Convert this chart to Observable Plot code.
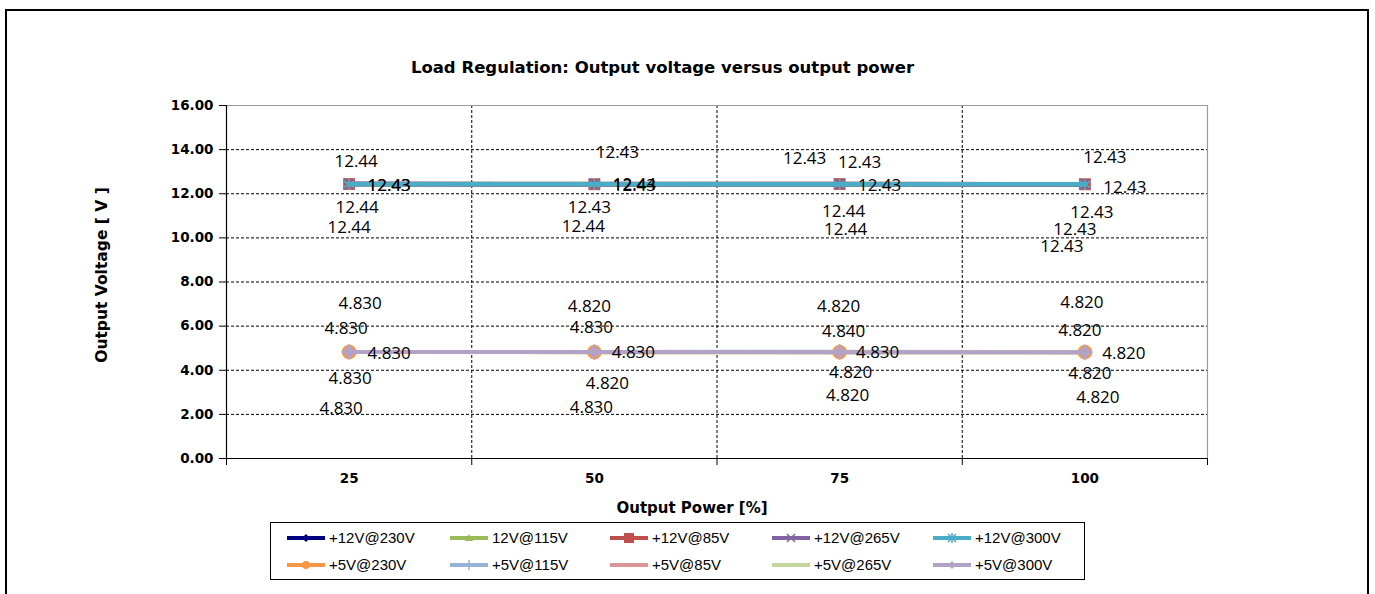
<!DOCTYPE html>
<html>
<head>
<meta charset="utf-8">
<script src="https://cdn.jsdelivr.net/npm/d3@7"></script>
<script src="https://cdn.jsdelivr.net/npm/@observablehq/plot@0.6"></script>
<style>
  html, body { margin: 0; padding: 0; background: #fff; }
  #wrap { position: relative; width: 1375px; height: 594px; overflow: hidden; background: #fff; }
  #frame { position: absolute; left: 5px; top: 9px; width: 1360px; height: 620px; border: 2px solid #000; }
  #chart { position: absolute; left: 0; top: 0; }
  .t { position: absolute; font-family: "DejaVu Sans", sans-serif; font-weight: bold; color: #000; white-space: nowrap; }
  #title { left: 0; width: 1325px; top: 58px; text-align: center; font-size: 16.5px; }
  #ylab { left: 102px; top: 275px; font-size: 15.5px; transform: translate(-50%, -50%) rotate(-90deg); }
  #xlab { left: 692px; top: 508px; font-size: 15px; transform: translate(-50%, -50%); }
  #legend { position: absolute; left: 270px; top: 522px; width: 813px; height: 56px; border: 1.5px solid #000; background: #fff; }
  .li { position: absolute; display: flex; align-items: center; font-family: "Liberation Sans", Arial, sans-serif; font-size: 15px; color: #000; white-space: nowrap; }
  .li svg { margin-right: 2px; }
</style>
</head>
<body>
<div id="wrap">
  <div id="frame"></div>
  <div id="chart"></div>
  <div id="title" class="t"></div>
  <div id="ylab" class="t"></div>
  <div id="xlab" class="t"></div>
  <div id="legend"></div>
</div>
<script>
// ---------- data ----------
const titleText = "Load Regulation: Output voltage versus output power";
const xTitle = "Output Power [%]";
const yTitle = "Output Voltage [ V ]";
const powers = ["25", "50", "75", "100"];
const yTicks = [0, 2, 4, 6, 8, 10, 12, 14, 16];

const names12 = ["+12V@230V", "12V@115V", "+12V@85V", "+12V@265V", "+12V@300V"];
const names5 = ["+5V@230V", "+5V@115V", "+5V@85V", "+5V@265V", "+5V@300V"];

const v12_230 = [12.44, 12.43, 12.43, 12.43];
const v12_115 = [12.43, 12.44, 12.43, 12.43];
const v12_85 = [12.44, 12.43, 12.44, 12.43];
const v12_265 = [12.44, 12.44, 12.44, 12.43];
const v12_300 = [12.43, 12.43, 12.43, 12.43];

const v5_230 = [4.83, 4.82, 4.82, 4.82];
const v5_115 = [4.83, 4.83, 4.84, 4.82];
const v5_85 = [4.83, 4.83, 4.83, 4.82];
const v5_265 = [4.83, 4.82, 4.82, 4.82];
const v5_300 = [4.83, 4.83, 4.82, 4.82];

// ---------- styles ----------
const colors12 = ["#000080", "#9BBB59", "#C0504D", "#8064A2", "#4BACC6"];
const colors5 = ["#F79646", "#95B3D7", "#D99694", "#C3D69B", "#B3A2C7"];
const symbols12 = ["diamond2", "triangle2", "square2", "times", "asterisk"];
const symbols5 = ["circle", "plus", null, null, "diamond2"];
const sizes12 = [4.5, 5, 7, 5, 5.5];
const sizes5 = [7, 5, 0, 0, 6];
// data-label placement (pixel offsets from each point), per series and per point
const lab12dx = [[7, 23, 20, 20], [40, 40, 40, 40], [8, -5, 4, 7], [0, -11, 6, -10], [40, 40, -35, -23]];
const lab12dy = [[-22, -32, -22, -27], [1, 1, 1, 3], [24, 23, 28, 28], [44, 43, 46, 45], [1, 1, -26, 62]];
const lab5dx = [[11, -5, -1, -3], [-3, -3, 4, -5], [40, 39, 38, 39], [1, 13, 11, 5], [-8, -3, 8, 13]];
const lab5dy = [[-48, -46, -46, -50], [-23, -24, -20, -22], [2, 1, 1, 1], [27, 31, 20, 21], [57, 56, 43, 45]];

const vals12 = [v12_230, v12_115, v12_85, v12_265, v12_300];
const vals5 = [v5_230, v5_115, v5_85, v5_265, v5_300];

function rows(vals) { return vals.map((v, i) => ({x: i + 0.5, y: v, i})); }

const marks = [];
// grid
marks.push(Plot.ruleY(yTicks.filter(d => d > 0 && d < 16), {stroke: "#000", strokeDasharray: "3,2", strokeWidth: 1}));
marks.push(Plot.ruleX([1, 2, 3], {stroke: "#000", strokeDasharray: "3,2", strokeWidth: 1}));
marks.push(Plot.ruleY([16], {stroke: "#9a9a9a", strokeWidth: 1.2}));
marks.push(Plot.ruleX([4], {stroke: "#9a9a9a", strokeWidth: 1.2}));
// axes
marks.push(Plot.axisY({ticks: yTicks, tickFormat: d => d.toFixed(2), tickSize: 7, tickPadding: 6, label: null, stroke: "#000"}));
marks.push(Plot.axisX({ticks: [0, 1, 2, 3, 4], tickFormat: () => "", tickSize: 7, label: null, stroke: "#000"}));
marks.push(Plot.axisX({ticks: [0.5, 1.5, 2.5, 3.5], tickFormat: d => powers[Math.floor(d)], tickSize: 0, tickPadding: 15, label: null}));
marks.push(Plot.ruleX([0], {stroke: "#000", strokeWidth: 1.2}));
marks.push(Plot.ruleY([0], {stroke: "#000", strokeWidth: 1.2}));

function addSeries(vals, color, sym, size, width) {
  const r = rows(vals);
  const open = sym === "times" || sym === "asterisk" || sym === "plus";
  marks.push(Plot.line(r, {x: "x", y: "y", stroke: color, strokeWidth: width}));
  if (sym) marks.push(Plot.dot(r, {x: "x", y: "y", symbol: () => sym, fill: open ? "none" : color, stroke: color, strokeWidth: open ? 1.8 : 0.8, r: size}));
}
vals12.forEach((v, s) => addSeries(v, colors12[s], symbols12[s], sizes12[s], 4.5));
vals5.forEach((v, s) => addSeries(v, colors5[s], symbols5[s], sizes5[s], 4));

// data labels
function addLabels(vals, dxs, dys, digits) {
  vals.forEach((v, s) => v.forEach((val, i) => {
    marks.push(Plot.text([{x: i + 0.5, y: val}], {
      x: "x", y: "y", text: d => d.y.toFixed(digits),
      dx: dxs[s][i], dy: dys[s][i],
      fontFamily: "Open Sans", fontSize: 17, fontWeight: "normal", fill: "#000"
    }));
  }));
}
addLabels(vals12, lab12dx, lab12dy, 2);
addLabels(vals5, lab5dx, lab5dy, 3);

const chart = Plot.plot({
  width: 1375,
  height: 530,
  marginLeft: 226,
  marginRight: 168,
  marginTop: 105,
  marginBottom: 72,
  x: {type: "linear", domain: [0, 4], axis: null},
  y: {type: "linear", domain: [0, 16], axis: null},
  style: {fontFamily: "DejaVu Sans", fontSize: "13.5px", fontWeight: "bold", color: "#000", background: "transparent", overflow: "visible"},
  marks
});
document.getElementById("chart").appendChild(chart);

document.getElementById("title").textContent = titleText;
document.getElementById("ylab").textContent = yTitle;
document.getElementById("xlab").textContent = xTitle;

// legend
const legend = document.getElementById("legend");
const legendCols = [16, 179, 339, 501, 662];
function markerSvg(color, sym) {
  let m = "";
  const c = 19, y = 6;
  if (sym === "diamond2") m = `<path d="M${c},${y-4}L${c+4},${y}L${c},${y+4}L${c-4},${y}Z" fill="${color}"/>`;
  if (sym === "triangle2") m = `<path d="M${c},${y-4}L${c+4},${y+3}L${c-4},${y+3}Z" fill="${color}"/>`;
  if (sym === "square2") m = `<rect x="${c-5}" y="${y-5}" width="10" height="10" fill="${color}"/>`;
  if (sym === "times") m = `<path d="M${c-4},${y-4}L${c+4},${y+4}M${c+4},${y-4}L${c-4},${y+4}" stroke="${color}" stroke-width="1.5"/>`;
  if (sym === "asterisk") m = `<path d="M${c-4},${y-4}L${c+4},${y+4}M${c+4},${y-4}L${c-4},${y+4}M${c},${y-5}L${c},${y+5}" stroke="${color}" stroke-width="1.5"/>`;
  if (sym === "circle") m = `<circle cx="${c}" cy="${y}" r="4" fill="${color}"/>`;
  if (sym === "plus") m = `<path d="M${c},${y-5}L${c},${y+5}" stroke="${color}" stroke-width="1.5"/>`;
  return `<svg width="40" height="12"><line x1="0" x2="38" y1="${y}" y2="${y}" stroke="${color}" stroke-width="4"/>${m}</svg>`;
}
function addLegendRow(names, colors, syms, top) {
  names.forEach((n, i) => {
    const d = document.createElement("div");
    d.className = "li";
    d.style.left = legendCols[i] + "px";
    d.style.top = top + "px";
    d.innerHTML = markerSvg(colors[i], syms[i]) + `<span>${n}</span>`;
    legend.appendChild(d);
  });
}
addLegendRow(names12, colors12, symbols12, 6);
addLegendRow(names5, colors5, symbols5, 33);
</script>
</body>
</html>
